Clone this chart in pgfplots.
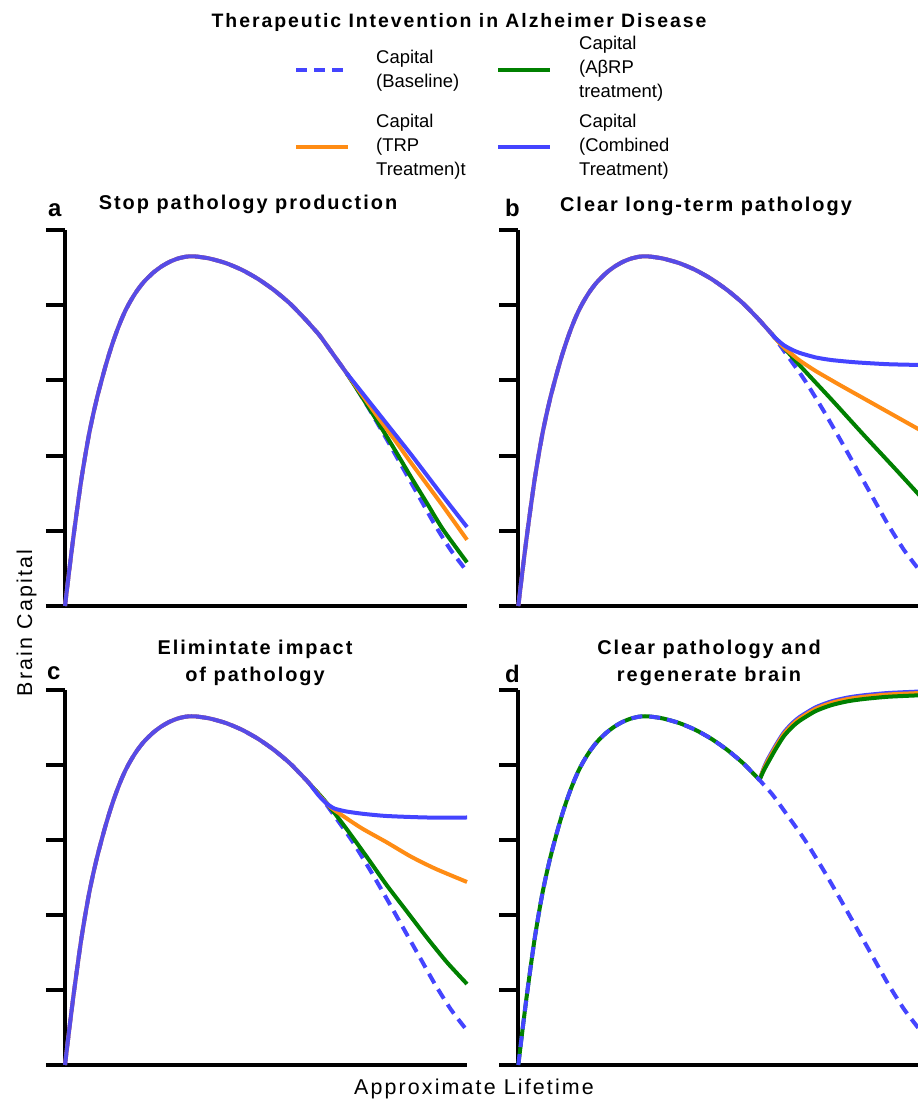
\documentclass[border=0pt]{standalone}
\usepackage{fontspec}
\setmainfont{Liberation Sans}
\newfontfamily\spaced[LetterSpace=10]{Liberation Sans}
\usepackage{pgfplots}
\pgfplotsset{compat=1.18}
\usepackage{pgfplotstable}

\definecolor{cblue}{RGB}{68,68,255}
\definecolor{cgreen}{RGB}{0,128,0}
\definecolor{corange}{RGB}{255,140,20}

\pgfplotstableread{
x y
0 0
1 0.45
2 0.88
3 1.28
4 1.66
5 1.99
6 2.29
7 2.545
8 2.775
9 2.98
10 3.175
11 3.355
12 3.52
13 3.67
14 3.805
15 3.925
16 4.027
17 4.118
18 4.199
19 4.27
20 4.332
22 4.435
24 4.515
26 4.576
28 4.619
30 4.644
31.5 4.65
33 4.645
36 4.62
40 4.56
44 4.47
48 4.35
52 4.20
56 4.02
60 3.80
61 3.74
63 3.62
64 3.55
66 3.40
68 3.25
70 3.10
72 2.94
76 2.59
80 2.22
84 1.84
88 1.46
92 1.08
96 0.74
100 0.46
}\base

% panel a tails
\pgfplotstableread{
x y
70 3.10
74 2.83
78 2.56
82 2.29
86 2.02
90 1.74
94 1.46
100 1.05
}\aBlue
\pgfplotstableread{
x y
70 3.10
74 2.80
78 2.50
82 2.21
86 1.91
90 1.62
94 1.33
100 0.88
}\aOrange
\pgfplotstableread{
x y
70 3.10
74 2.77
78 2.43
82 2.08
86 1.72
90 1.37
94 1.02
100 0.58
}\aGreen

% panel b tails
\pgfplotstableread{
x y
63 3.62
64 3.56
66 3.47
68 3.41
70 3.365
74 3.305
78 3.27
84 3.24
92 3.215
100 3.205
}\bBlue
\pgfplotstableread{
x y
63 3.62
64 3.555
66 3.44
68 3.35
70 3.264
74 3.124
80 2.938
86 2.758
92 2.578
100 2.338
}\bOrange
\pgfplotstableread{
x y
63 3.62
70 3.20
78 2.74
86 2.27
94 1.81
100 1.46
}\bGreen

% panel c tails
\pgfplotstableread{
x y
61 3.74
63 3.60
65 3.49
67 3.42
70 3.38
74 3.35
80 3.32
90 3.30
100 3.30
}\cBlue
\pgfplotstableread{
x y
61 3.74
63 3.61
66 3.44
70 3.29
74 3.15
80 2.97
86 2.78
92 2.62
100 2.44
}\cOrange
\pgfplotstableread{
x y
61 3.74
65 3.50
70 3.15
75 2.78
80 2.40
85 2.05
90 1.70
95 1.37
100 1.08
}\cGreen

% panel d regeneration
\pgfplotstableread{
x y
60 3.80
61 3.92
62 4.02
64 4.21
66 4.38
68 4.50
70 4.59
74 4.72
78 4.80
82 4.85
86 4.88
92 4.91
100 4.93
}\dGreen
\pgfplotstableread{
x y
60 3.80
61 3.94
62 4.05
64 4.24
66 4.41
68 4.53
70 4.62
74 4.75
78 4.83
82 4.88
86 4.91
92 4.94
100 4.96
}\dOrange
\pgfplotstableread{
x y
60 3.80
61 3.95
62 4.07
64 4.26
66 4.43
68 4.55
70 4.64
74 4.77
78 4.85
82 4.90
86 4.93
92 4.96
100 4.98
}\dBlue

\pgfplotsset{
  panel/.style={
    scale only axis, width=402bp, height=376bp,
    xmin=0, xmax=100, ymin=0, ymax=5,
    axis lines*=left,
    axis line style={line width=4bp, black},
    xtick=\empty, ytick={0,1,2,3,4,5}, yticklabels={},
    tick align=outside, major tick length=19bp,
    tick style={line width=4bp, black},
    clip=false, anchor=south west,
  },
  basestyle/.style={cblue, line width=4bp, dash pattern=on 11bp off 7bp, smooth, tension=0.4},
  gstyle/.style={cgreen, line width=4bp, smooth, tension=0.4},
  ostyle/.style={corange, line width=4bp, smooth, tension=0.4},
  bstyle/.style={cblue, line width=4bp, smooth, tension=0.4},
}

\begin{document}
\begin{tikzpicture}[x=1bp,y=1bp]
\path[use as bounding box] (0,0) rectangle (918,1100);

% ---------- panel a ----------
\begin{axis}[panel, at={(65bp,494bp)}]
\addplot[basestyle] table {\base};
\addplot[gstyle] table {\aGreen};
\addplot[ostyle] table[restrict x to domain=0:70] {\base};
\addplot[ostyle] table {\aOrange};
\addplot[bstyle, opacity=0.9] table[restrict x to domain=0:70] {\base};
\addplot[bstyle] table {\aBlue};
\end{axis}

% ---------- panel b ----------
\begin{axis}[panel, at={(518.3bp,494bp)}]
\addplot[basestyle] table {\base};
\addplot[gstyle] table {\bGreen};
\addplot[ostyle] table[restrict x to domain=0:63] {\base};
\addplot[ostyle] table {\bOrange};
\addplot[bstyle, opacity=0.9] table[restrict x to domain=0:63] {\base};
\addplot[bstyle] table {\bBlue};
\end{axis}

% ---------- panel c ----------
\begin{axis}[panel, at={(65bp,35bp)}, height=375bp]
\addplot[basestyle] table {\base};
\addplot[gstyle] table {\cGreen};
\addplot[ostyle] table[restrict x to domain=0:61] {\base};
\addplot[ostyle] table {\cOrange};
\addplot[bstyle, opacity=0.9] table[restrict x to domain=0:61] {\base};
\addplot[bstyle] table {\cBlue};
\end{axis}

% ---------- panel d ----------
\begin{axis}[panel, at={(518.3bp,35bp)}, height=375bp]
\addplot[bstyle] table {\dBlue};
\addplot[ostyle] table {\dOrange};
\addplot[gstyle] table[restrict x to domain=0:60] {\base};
\addplot[gstyle] table {\dGreen};
\addplot[basestyle] table {\base};
\end{axis}

% ---------- legend keys (hidden axis in page units) ----------
\begin{axis}[hide axis, scale only axis, width=918bp, height=1100bp,
  xmin=0, xmax=918, ymin=0, ymax=1100, at={(0bp,0bp)}, anchor=south west, clip=false]
\addplot[basestyle, sharp plot] coordinates {(296,1030) (348,1030)};
\addplot[gstyle, sharp plot] coordinates {(498,1030) (550,1030)};
\addplot[ostyle, sharp plot] coordinates {(296,953) (348,953)};
\addplot[bstyle, sharp plot] coordinates {(498,953) (550,953)};
\end{axis}

% ---------- legend texts ----------
\begin{scope}[every node/.style={font=\fontsize{18.5}{24}\selectfont, align=left, anchor=west, inner sep=0pt}]
\node at (376,1029) {Capital\\(Baseline)};
\node at (579,1031) {Capital\\(AβRP\\treatment)};
\node at (376,953) {Capital\\(TRP\\Treatmen)t};
\node at (579,953) {Capital\\(Combined\\Treatment)};
\end{scope}

% ---------- texts ----------
\node[font=\spaced\fontsize{19.5}{23}\selectfont\bfseries, anchor=base] at (459,1072) {Therapeutic Intevention in Alzheimer Disease};

\node[font=\fontsize{24}{28}\selectfont\bfseries, anchor=base west, inner sep=0pt] at (48,883) {a};
\node[font=\fontsize{24}{28}\selectfont\bfseries, anchor=base west, inner sep=0pt] at (505,883) {b};
\node[font=\fontsize{24}{28}\selectfont\bfseries, anchor=base west, inner sep=0pt] at (47,420) {c};
\node[font=\fontsize{24}{28}\selectfont\bfseries, anchor=base west, inner sep=0pt] at (505,417) {d};

\node[font=\spaced\fontsize{20}{24}\selectfont\bfseries, anchor=base] at (248,890) {Stop pathology production};
\node[font=\spaced\fontsize{20}{24}\selectfont\bfseries, anchor=base] at (706,888) {Clear long-term pathology};
\node[font=\spaced\fontsize{20}{24}\selectfont\bfseries, anchor=base] at (255,445) {Elimintate impact};
\node[font=\spaced\fontsize{20}{24}\selectfont\bfseries, anchor=base] at (255,418) {of pathology};
\node[font=\spaced\fontsize{20}{24}\selectfont\bfseries, anchor=base] at (709,445) {Clear pathology and};
\node[font=\spaced\fontsize{20}{24}\selectfont\bfseries, anchor=base] at (709,418) {regenerate brain};

\node[font=\spaced\fontsize{21.5}{25}\selectfont, rotate=90, anchor=base] at (32,477) {Brain Capital};
\node[font=\spaced\fontsize{21.5}{25}\selectfont, anchor=base] at (474,5) {Approximate Lifetime};
\end{tikzpicture}
\end{document}
